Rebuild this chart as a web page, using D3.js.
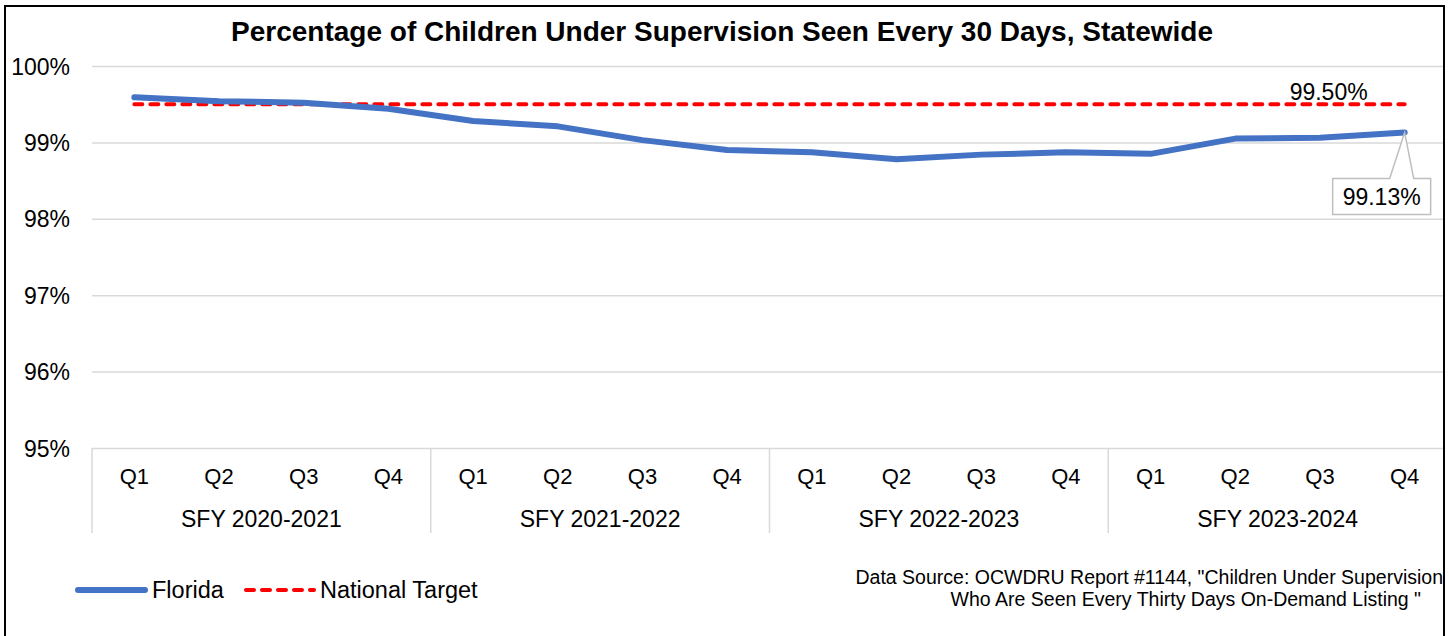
<!DOCTYPE html>
<html>
<head>
<meta charset="utf-8">
<script src="https://cdn.jsdelivr.net/npm/d3@7"></script>
<style>
  html, body { margin: 0; padding: 0; background: #fff; }
  svg { display: block; font-family: "Liberation Sans", Arial, sans-serif; }
</style>
</head>
<body>
<svg id="chart" width="1449" height="636"></svg>
<script>
// ---- data ----
const fiscalYears = ["SFY 2020-2021", "SFY 2021-2022", "SFY 2022-2023", "SFY 2023-2024"];
const quarters = ["Q1", "Q2", "Q3", "Q4"];
const floridaValues = [99.59, 99.54, 99.52, 99.44, 99.28, 99.21, 99.03, 98.90,
                       98.87, 98.78, 98.84, 98.87, 98.85, 99.05, 99.06, 99.13];
const nationalTarget = [99.5, 99.5, 99.5, 99.5, 99.5, 99.5, 99.5, 99.5,
                        99.5, 99.5, 99.5, 99.5, 99.5, 99.5, 99.5, 99.5];
const yTicks = [95, 96, 97, 98, 99, 100];
const titleText = "Percentage of Children Under Supervision Seen Every 30 Days, Statewide";
const seriesNames = ["Florida", "National Target"];
const sourceLines = ["Data Source: OCWDRU Report #1144, \"Children Under Supervision",
                     "Who Are Seen Every Thirty Days On-Demand Listing \""];

// ---- layout ----
const svg = d3.select("#chart");
const W = 1449, H = 636;
const plot = { left: 92, right: 1447, top: 66, bottom: 448 };

const keys = [];
fiscalYears.forEach(fy => quarters.forEach(q => keys.push(fy + "|" + q)));

const x = d3.scaleBand().domain(keys).range([plot.left, plot.right]).padding(0);
const y = d3.scaleLinear().domain([95, 100]).range([plot.bottom, plot.top]);
const cx = i => x(keys[i]) + x.bandwidth() / 2;

svg.append("defs").append("clipPath").attr("id", "clip")
  .append("rect").attr("x", 0).attr("y", 0).attr("width", 1444).attr("height", H);

const g = svg.append("g").attr("clip-path", "url(#clip)");

// gridlines
const grid = g.append("g")
  .attr("transform", `translate(${plot.left},0)`)
  .call(d3.axisLeft(y).tickValues(yTicks).tickSize(-(plot.right - plot.left)).tickFormat(""));
grid.select(".domain").remove();
grid.selectAll("line").attr("stroke", "#d9d9d9").attr("stroke-width", 1.5);

// y labels
const yAx = svg.append("g")
  .attr("transform", `translate(${plot.left},0)`)
  .call(d3.axisLeft(y).tickValues(yTicks).tickSize(0).tickPadding(22).tickFormat(d => d + "%"));
yAx.select(".domain").remove();
yAx.selectAll("text").attr("font-size", 23).attr("fill", "#000")
  .attr("font-family", "Liberation Sans, Arial, sans-serif").attr("dy", "0.35em");

// x axis quarters
const xAx = svg.append("g")
  .attr("transform", `translate(0,${plot.bottom})`)
  .call(d3.axisBottom(x).tickSize(0).tickPadding(20).tickFormat(k => k.split("|")[1]));
xAx.select(".domain").remove();
xAx.selectAll("text").attr("font-size", 22).attr("fill", "#000")
  .attr("font-family", "Liberation Sans, Arial, sans-serif").attr("dy", "0.71em");

// group separators
const bounds = fiscalYears.map((fy, i) => x(keys[i * 4]));
svg.append("g").selectAll("line").data(bounds).join("line")
  .attr("x1", d => d).attr("x2", d => d)
  .attr("y1", plot.bottom).attr("y2", 533)
  .attr("stroke", "#d9d9d9").attr("stroke-width", 1.5);

// group labels
svg.append("g").selectAll("text").data(fiscalYears).join("text")
  .attr("x", (fy, i) => (x(keys[i * 4]) + x(keys[i * 4 + 3]) + x.bandwidth()) / 2)
  .attr("y", 527)
  .attr("text-anchor", "middle")
  .attr("font-size", 23)
  .attr("fill", "#000")
  .text(d => d);

// lines
const line = d3.line().x((d, i) => cx(i)).y(d => y(d));
g.append("path").datum(nationalTarget)
  .attr("d", line).attr("fill", "none")
  .attr("stroke", "#ff0000").attr("stroke-width", 4)
  .attr("stroke-dasharray", "8 8").attr("stroke-linecap", "round");
g.append("path").datum(floridaValues)
  .attr("d", line).attr("fill", "none")
  .attr("stroke", "#4472c4").attr("stroke-width", 6)
  .attr("stroke-linejoin", "round").attr("stroke-linecap", "round");

// target label
const last = floridaValues.length - 1;
svg.append("text")
  .attr("x", cx(last) - 76).attr("y", y(nationalTarget[last]) - 4)
  .attr("text-anchor", "middle").attr("font-size", 23).attr("fill", "#000")
  .text(d3.format(".2f")(nationalTarget[last]) + "%");

// callout for last Florida value
const px = cx(last), py = y(floridaValues[last]);
const bx0 = px - 72, bx1 = px + 26, by0 = py + 46, by1 = py + 82;
svg.append("path")
  .attr("d", `M${bx0},${by0} L${px - 15},${by0} L${px},${py} L${px + 9},${by0} L${bx1},${by0} L${bx1},${by1} L${bx0},${by1} Z`)
  .attr("fill", "#fff").attr("stroke", "#bfbfbf").attr("stroke-width", 1.5);
svg.append("text")
  .attr("x", (bx0 + bx1) / 2).attr("y", by1 - 9)
  .attr("text-anchor", "middle").attr("font-size", 23).attr("fill", "#000")
  .text(d3.format(".2f")(floridaValues[last]) + "%");

// title
svg.append("text")
  .attr("x", 722).attr("y", 41)
  .attr("text-anchor", "middle").attr("font-size", 28).attr("font-weight", "bold")
  .attr("fill", "#000").text(titleText);

// legend
const leg = svg.append("g");
leg.append("line").attr("x1", 78).attr("x2", 145).attr("y1", 590).attr("y2", 590)
  .attr("stroke", "#4472c4").attr("stroke-width", 6).attr("stroke-linecap", "round");
leg.append("text").attr("x", 152).attr("y", 598).attr("font-size", 23.5).text(seriesNames[0]);
leg.append("line").attr("x1", 246).attr("x2", 314).attr("y1", 590).attr("y2", 590)
  .attr("stroke", "#ff0000").attr("stroke-width", 4)
  .attr("stroke-dasharray", "8 8").attr("stroke-linecap", "round");
leg.append("text").attr("x", 320).attr("y", 598).attr("font-size", 23.5).text(seriesNames[1]);

// source
svg.append("g").selectAll("text").data(sourceLines).join("text")
  .attr("x", (d, i) => i === 0 ? 1443 : 1421)
  .attr("y", (d, i) => 584 + i * 22)
  .attr("text-anchor", "end").attr("font-size", 19.5)
  .attr("fill", "#000").text(d => d.trim());

// border
svg.append("rect").attr("x", 5).attr("y", 6).attr("width", 1439).attr("height", 640)
  .attr("fill", "none").attr("stroke", "#000").attr("stroke-width", 2);
</script>
</body>
</html>
